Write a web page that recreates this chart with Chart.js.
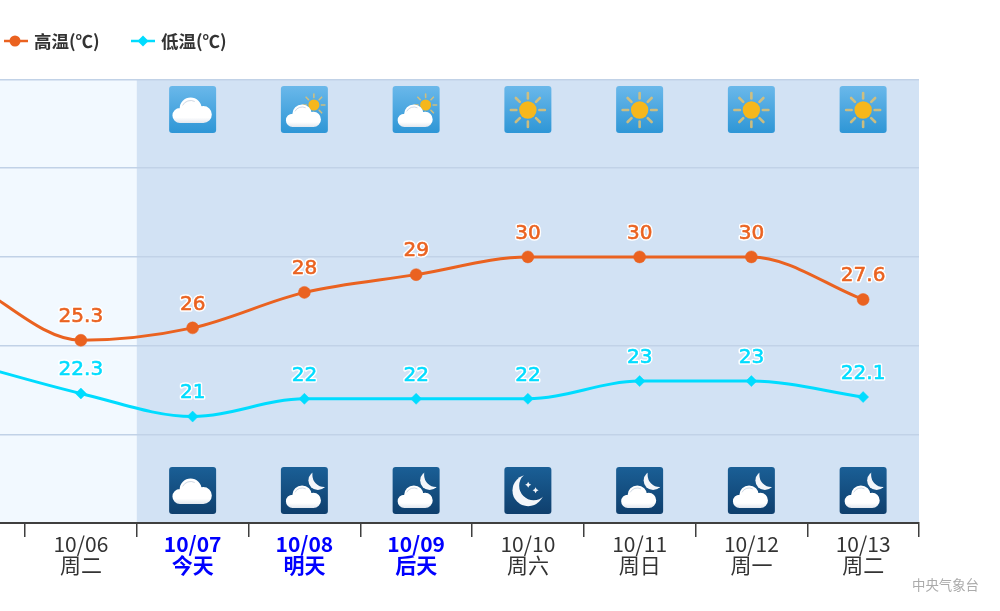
<!DOCTYPE html>
<html>
<head>
<meta charset="utf-8">
<title>7天气温预报</title>
<script src="https://cdn.jsdelivr.net/npm/chart.js@4"></script>
<style>
    html, body { margin: 0; padding: 0; background: #fff; overflow: hidden; }
    #wrap { position: relative; width: 1000px; height: 611px; overflow: hidden; }
    /* the chart runs on past the left edge of the page, as in the original */
    canvas { display: block; position: absolute; left: -200px; top: 0; }
</style>
</head>
<body>
<div id="wrap"><canvas id="TempChart" width="1200" height="611"></canvas></div>
<script>
(function () {
    "use strict";

    // Data
    const dates = ["10/05", "10/06", "10/07", "10/08", "10/09", "10/10", "10/11", "10/12", "10/13"];
    const weekdays = ["周一", "周二", "今天", "明天", "后天", "周六", "周日", "周一", "周二"];
    const highs = [28.6, 25.3, 26, 28, 29, 30, 30, 30, 27.6];
    const lows = [24, 22.3, 21, 22, 22, 22, 23, 23, 22.1];
    const dayIcons = [null, null, "cloud", "partly", "partly", "clear", "clear", "clear", "clear"];
    const nightIcons = [null, null, "cloud", "partly", "partly", "clear", "partly", "partly", "partly"];
    const yTicks = [15, 20, 25, 30, 35, 40];
    const firstForecast = 2;
    const highlighted = [2, 3, 4];

    const offsetX = 200;

    // Colors
    const color_high = "#EA6220";
    const color_low = "#00DCFF";
    const color_past = "#F2F9FF";
    const color_future = "#D2E2F4";
    const color_grid = "#C1D2E7";
    const color_axis = "#3F3F3F";
    const color_text = "#333333";
    const font_cjk = '"Noto Sans CJK SC", "Noto Sans", sans-serif';

    function drawSun(ctx, cx, cy, r, rayFrom, rayTo, rayWidth) {
        ctx.save();
        ctx.strokeStyle = "rgba(218,192,118,0.9)";
        ctx.lineWidth = rayWidth;
        ctx.lineCap = "round";
        for (let i = 0; i < 8; i++) {
            const a = (i * Math.PI) / 4;
            ctx.beginPath();
            ctx.moveTo(cx + Math.cos(a) * rayFrom, cy + Math.sin(a) * rayFrom);
            ctx.lineTo(cx + Math.cos(a) * rayTo, cy + Math.sin(a) * rayTo);
            ctx.stroke();
        }
        ctx.fillStyle = "#F6B71C";
        ctx.beginPath();
        ctx.arc(cx, cy, r, 0, Math.PI * 2);
        ctx.fill();
        ctx.restore();
    }

    function drawMoon(ctx, cx, cy, r, cutX, cutY, cutR) {
        ctx.save();
        ctx.beginPath();
        ctx.rect(cx - r - 2, cy - r - 2, r * 2 + 4, r * 2 + 4);
        ctx.arc(cutX, cutY, cutR, 0, Math.PI * 2);
        ctx.clip("evenodd");
        ctx.fillStyle = "#F4F6FA";
        ctx.beginPath();
        ctx.arc(cx, cy, r, 0, Math.PI * 2);
        ctx.fill();
        ctx.restore();
    }

    function drawStar(ctx, cx, cy, r) {
        ctx.fillStyle = "#F4F6FA";
        ctx.beginPath();
        ctx.moveTo(cx, cy - r);
        ctx.lineTo(cx + r * 0.35, cy - r * 0.35);
        ctx.lineTo(cx + r, cy);
        ctx.lineTo(cx + r * 0.35, cy + r * 0.35);
        ctx.lineTo(cx, cy + r);
        ctx.lineTo(cx - r * 0.35, cy + r * 0.35);
        ctx.lineTo(cx - r, cy);
        ctx.lineTo(cx - r * 0.35, cy - r * 0.35);
        ctx.closePath();
        ctx.fill();
    }

    // s scales the cloud, (cx, by) is its bottom centre
    function drawCloud(ctx, cx, by, s) {
        ctx.save();
        const g = ctx.createLinearGradient(0, by - 25 * s, 0, by);
        g.addColorStop(0, "#FFFFFF");
        g.addColorStop(0.78, "#FFFFFF");
        g.addColorStop(1, "#E2E7EE");
        ctx.fillStyle = g;
        ctx.beginPath();
        ctx.arc(cx - 12.7 * s, by - 7.5 * s, 7.5 * s, 0, Math.PI * 2);
        ctx.moveTo(cx + 9 * s, by - 14.4 * s);
        ctx.arc(cx - 2 * s, by - 14.4 * s, 11 * s, 0, Math.PI * 2);
        ctx.moveTo(cx + 19.2 * s, by - 8.5 * s);
        ctx.arc(cx + 10.7 * s, by - 8.5 * s, 8.5 * s, 0, Math.PI * 2);
        ctx.rect(cx - 12.7 * s, by - 9 * s, 23.4 * s, 9 * s);
        ctx.fill("nonzero");
        ctx.strokeStyle = "rgba(170,185,205,0.7)";
        ctx.lineWidth = 0.8;
        ctx.beginPath();
        ctx.arc(cx - 2 * s, by - 13.5 * s, 9 * s, Math.PI * 1.15, Math.PI * 1.65);
        ctx.stroke();
        ctx.restore();
    }

    function drawIcon(ctx, cx, top, kind, night) {
        const x = cx - 23.5;
        const g = ctx.createLinearGradient(0, top, 0, top + 47);
        g.addColorStop(0, night ? "#1A5F96" : "#6AB8EA");
        g.addColorStop(1, night ? "#0F3F6D" : "#2E96D6");
        ctx.fillStyle = g;
        ctx.beginPath();
        ctx.roundRect(x, top, 47, 47, 3);
        ctx.fill();
        if (kind === "cloud") {
            drawCloud(ctx, cx, top + 37, 1);
        } else if (kind === "partly") {
            if (night) {
                drawMoon(ctx, cx + 13.5, top + 13.5, 9.5, cx + 20, top + 8, 12);
            } else {
                drawSun(ctx, cx + 9.5, top + 19, 5.5, 7.5, 11, 1.6);
            }
            drawCloud(ctx, cx - 0.5, top + 41, 0.89);
        } else if (night) {
            drawMoon(ctx, cx + 0.3, top + 23.5, 15.7, cx + 5.8, top + 18.7, 14.5);
            drawStar(ctx, cx + 0.3, top + 17.7, 3);
            drawStar(ctx, cx + 7.7, top + 23.3, 3);
        } else {
            drawSun(ctx, cx, top + 24, 8.7, 11.5, 17, 2.6);
        }
    }

    // Bands behind the grid
    const bandPlugin = {
        id: "bands",
        beforeDraw(chart) {
            const ctx = chart.ctx;
            const area = chart.chartArea;
            const split = chart.scales.x.getPixelForValue(firstForecast) -
                (chart.scales.x.getPixelForValue(1) - chart.scales.x.getPixelForValue(0)) / 2;
            ctx.save();
            ctx.fillStyle = color_past;
            ctx.fillRect(area.left, area.top, split - area.left, area.height);
            ctx.fillStyle = color_future;
            ctx.fillRect(split, area.top, area.right - split, area.height);
            ctx.restore();
        },
    };

    // Icons, value labels, legend and credit
    const overlayPlugin = {
        id: "overlay",
        afterDraw(chart) {
            const ctx = chart.ctx;
            const x = chart.scales.x;
            const area = chart.chartArea;
            ctx.save();
            dates.forEach(function (d, i) {
                const cx = x.getPixelForValue(i);
                if (dayIcons[i]) drawIcon(ctx, cx, 86, dayIcons[i], false);
                if (nightIcons[i]) drawIcon(ctx, cx, area.bottom - 56, nightIcons[i], true);
            });

            ctx.font = "20px 'DejaVu Sans'";
            ctx.textAlign = "center";
            ctx.textBaseline = "middle";
            ctx.lineJoin = "round";
            chart.data.datasets.forEach(function (ds, k) {
                chart.getDatasetMeta(k).data.forEach(function (pt, i) {
                    const label = String(ds.data[i]);
                    ctx.lineWidth = 3.5;
                    ctx.strokeStyle = "#FFFFFF";
                    ctx.strokeText(label, pt.x, pt.y - 23.5);
                    ctx.lineWidth = 0.6;
                    ctx.strokeStyle = ds.borderColor;
                    ctx.strokeText(label, pt.x, pt.y - 23.5);
                    ctx.fillStyle = ds.borderColor;
                    ctx.fillText(label, pt.x, pt.y - 23.5);
                });
            });

            // Legend
            const legendX = [4 + offsetX, 131 + offsetX];
            chart.data.datasets.forEach(function (ds, k) {
                const lx = legendX[k];
                ctx.strokeStyle = ds.borderColor;
                ctx.lineWidth = 2.5;
                ctx.beginPath();
                ctx.moveTo(lx, 41);
                ctx.lineTo(lx + 24, 41);
                ctx.stroke();
                ctx.fillStyle = ds.borderColor;
                ctx.beginPath();
                if (k === 0) {
                    ctx.arc(lx + 11, 41, 5.5, 0, Math.PI * 2);
                } else {
                    ctx.moveTo(lx + 12, 35.5);
                    ctx.lineTo(lx + 17.5, 41);
                    ctx.lineTo(lx + 12, 46.5);
                    ctx.lineTo(lx + 6.5, 41);
                    ctx.closePath();
                }
                ctx.fill();
                ctx.font = "bold 17.5px " + font_cjk;
                ctx.textAlign = "left";
                ctx.fillStyle = color_text;
                ctx.fillText(ds.label, lx + 30, 41);
            });

            ctx.font = "13.4px " + font_cjk;
            ctx.textAlign = "right";
            ctx.fillStyle = "#ABABAB";
            ctx.fillText("中央气象台", 979 + offsetX, 585);
            ctx.restore();
        },
    };

    const chart_temp = document.getElementById("TempChart");
    if (chart_temp != null) {
        const ctx = chart_temp.getContext("2d");
        new Chart(ctx, {
            type: "line",
            data: {
                labels: dates,
                datasets: [
                    {
                        label: "高温(℃)",
                        data: highs,
                        borderColor: color_high,
                        backgroundColor: color_high,
                        borderWidth: 3,
                        pointStyle: "circle",
                        pointRadius: 6,
                        pointBorderWidth: 0.5,
                        cubicInterpolationMode: "monotone",
                        fill: false,
                    },
                    {
                        label: "低温(℃)",
                        data: lows,
                        borderColor: color_low,
                        backgroundColor: color_low,
                        borderWidth: 3,
                        pointStyle: "rectRot",
                        pointRadius: 5.5,
                        pointBorderWidth: 0.5,
                        cubicInterpolationMode: "monotone",
                        fill: false,
                    },
                ],
            },
            options: {
                responsive: false,
                animation: false,
                layout: {
                    padding: { left: offsetX - 86.75, right: 81, top: 79.5, bottom: 0 },
                },
                plugins: {
                    legend: { display: false },
                    tooltip: { enabled: false },
                },
                scales: {
                    x: {
                        offset: true,
                        grid: {
                            offset: true,
                            drawOnChartArea: false,
                            drawTicks: true,
                            tickLength: 14,
                            color: color_axis,
                            lineWidth: 1.5,
                        },
                        border: { display: true, color: color_axis, width: 2 },
                        ticks: {
                            autoSkip: false,
                            maxRotation: 0,
                            minRotation: 0,
                            padding: -4,
                            callback: function (value, index) {
                                return [dates[index], weekdays[index]];
                            },
                            color: function (c) {
                                return highlighted.includes(c.index) ? "#0000FF" : color_text;
                            },
                            font: function (c) {
                                return {
                                    family: font_cjk,
                                    size: 21,
                                    lineHeight: 1.02,
                                    weight: highlighted.includes(c.index) ? "bold" : "normal",
                                };
                            },
                        },
                        afterFit: function (scale) {
                            scale.height = 88;
                        },
                    },
                    y: {
                        min: yTicks[0],
                        max: yTicks[yTicks.length - 1],
                        ticks: { display: false, stepSize: 5 },
                        grid: { color: color_grid, lineWidth: 1.5, drawTicks: false },
                        border: { display: false },
                        afterFit: function (scale) {
                            scale.width = 0;
                        },
                    },
                },
            },
            plugins: [bandPlugin, overlayPlugin],
        });
    }
})();
</script>
</body>
</html>
